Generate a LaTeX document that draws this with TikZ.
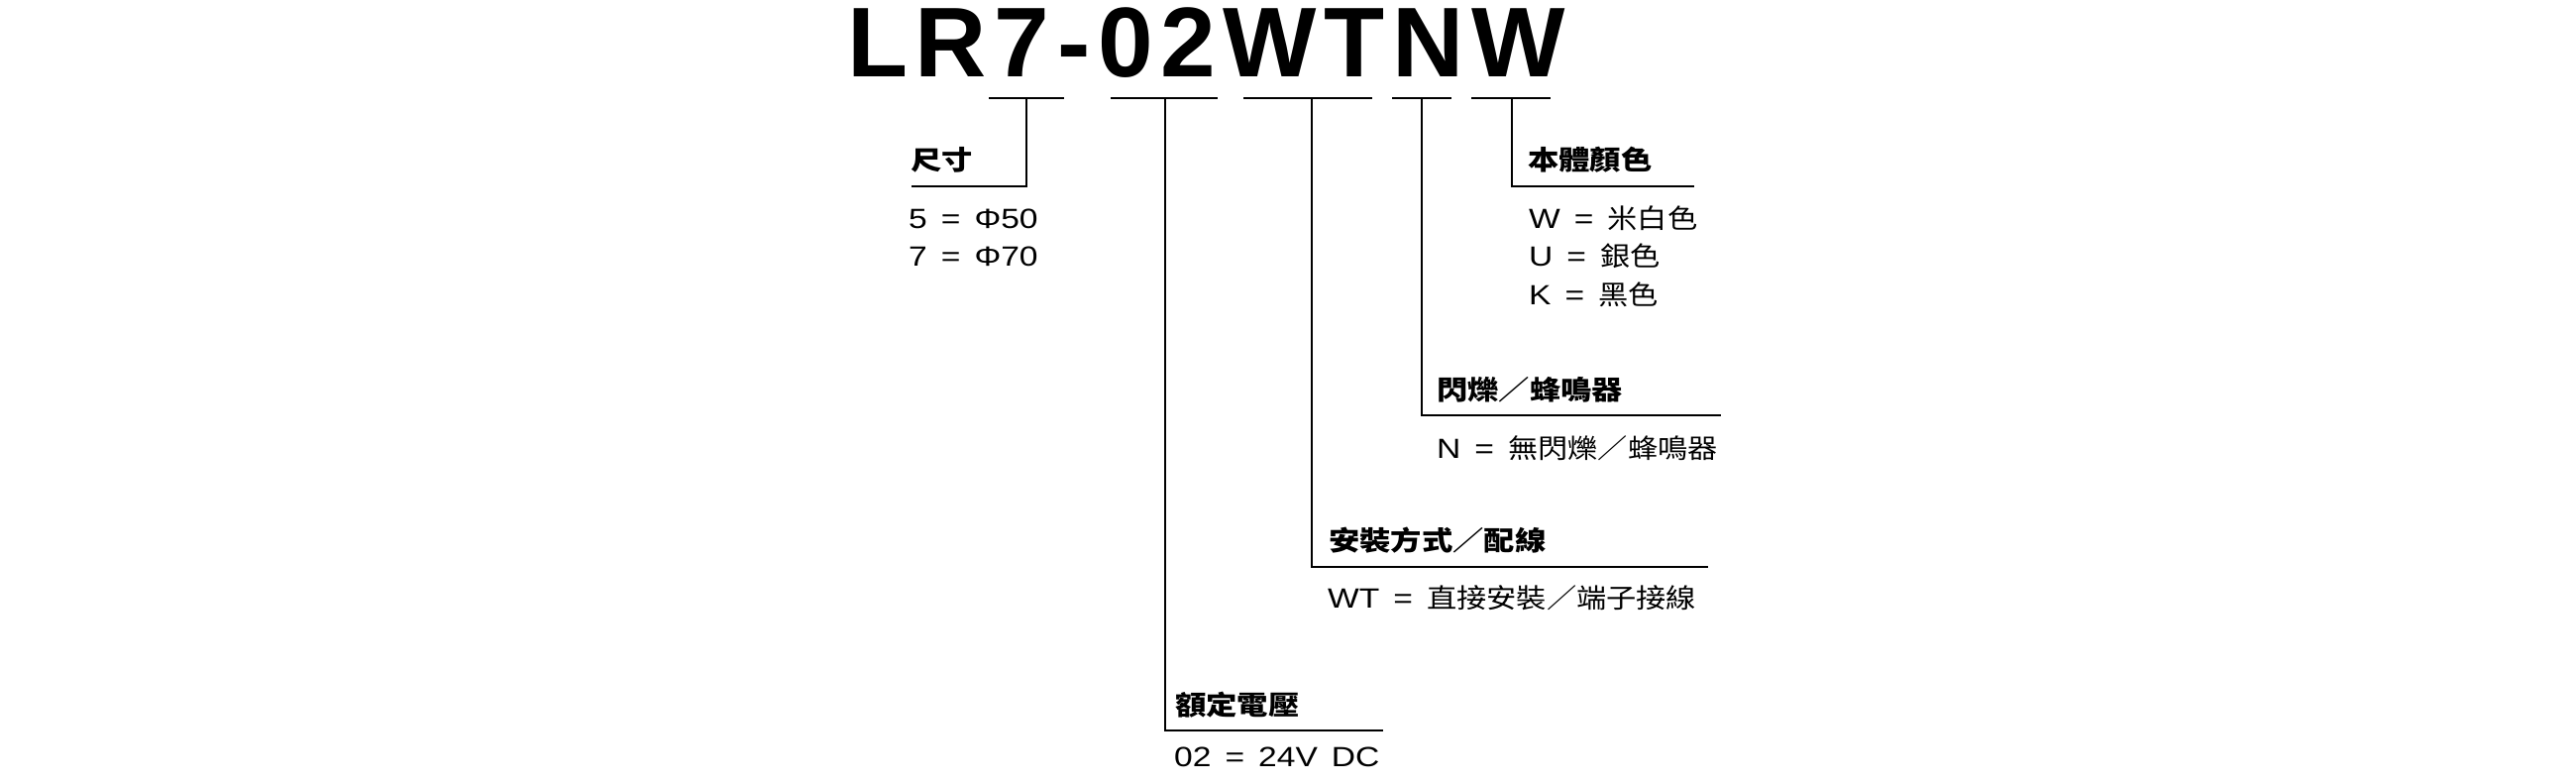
\documentclass[tikz,border=0pt]{standalone}
\usepackage{fontspec}
\setmainfont{Liberation Sans}
\newfontfamily\titlefont[LetterSpace=7.7]{Liberation Sans}
\newfontfamily\lab[FakeStretch=1.12]{Noto Sans CJK TC}
\newfontfamily\labb[FakeStretch=1.16]{Noto Sans CJK TC}
\newfontfamily\latf[FakeStretch=1.2,WordSpace=1.5]{Liberation Sans}
\tikzset{
  conn/.style={line width=2pt},
  titletext/.style={anchor=base west, inner sep=0pt, font={\titlefont\bfseries\fontsize{100pt}{100pt}\selectfont}},
  head/.style={anchor=base west, inner sep=0pt, font={\labb\bfseries\fontsize{27pt}{27pt}\selectfont}},
  opt/.style={anchor=base west, inner sep=0pt, font={\lab\fontsize{27pt}{27pt}\selectfont}},
}
\newcommand{\lt}[1]{{\latf\fontsize{28pt}{28pt}\selectfont #1}}
\begin{document}
\begin{tikzpicture}[x=1pt,y=-1pt]
\useasboundingbox (0,0) rectangle (2600,790);
\node[titletext] (title) at (855,77) {LR7-02WTNW};
% underline segments under the code
\coordinate (u1a) at (998,99);  \coordinate (u1b) at (1074,99); \coordinate (u1m) at (1036,99);
\coordinate (u2a) at (1121,99); \coordinate (u2b) at (1229,99); \coordinate (u2m) at (1176,99);
\coordinate (u3a) at (1255,99); \coordinate (u3b) at (1385,99); \coordinate (u3m) at (1324,99);
\coordinate (u4a) at (1405,99); \coordinate (u4b) at (1465,99); \coordinate (u4m) at (1435,99);
\coordinate (u5a) at (1485,99); \coordinate (u5b) at (1565,99); \coordinate (u5m) at (1526,99);
\foreach \i in {1,...,5} { \draw[conn] (u\i a) -- (u\i b); }
% corners and ends of leader lines
\coordinate (c1) at (1036,188); \coordinate (e1) at (920,188);
\coordinate (c2) at (1176,737); \coordinate (e2) at (1396,737);
\coordinate (c3) at (1324,572); \coordinate (e3) at (1724,572);
\coordinate (c4) at (1435,419); \coordinate (e4) at (1737,419);
\coordinate (c5) at (1526,188); \coordinate (e5) at (1710,188);
\foreach \i in {1,...,5} { \draw[conn] (u\i m) -- (c\i) -- (e\i); }
% headings
\node[head] (h1) at (919,171) {尺寸};
\node[head] (h2) at (1186,721) {額定電壓};
\node[head] (h3) at (1341,555) {安裝方式／配線};
\node[head] (h4) at (1450,403) {閃爍／蜂鳴器};
\node[head] (h5) at (1542,171) {本體顏色};
% options
\node[opt] (o1a) at (917,230) {\lt{5 = Φ50}};
\node[opt] (o1b) at (917,268) {\lt{7 = Φ70}};
\node[opt] (o2) at (1185,773) {\lt{02 = 24V DC}};
\node[opt] (o3) at (1340,613) {\lt{WT = }直接安裝／端子接線};
\node[opt] (o4) at (1450,462) {\lt{N = }無閃爍／蜂鳴器};
\node[opt] (o5a) at (1543,230) {\lt{W = }米白色};
\node[opt] (o5b) at (1543,268) {\lt{U = }銀色};
\node[opt] (o5c) at (1543,307) {\lt{K = }黑色};
\end{tikzpicture}
\end{document}
